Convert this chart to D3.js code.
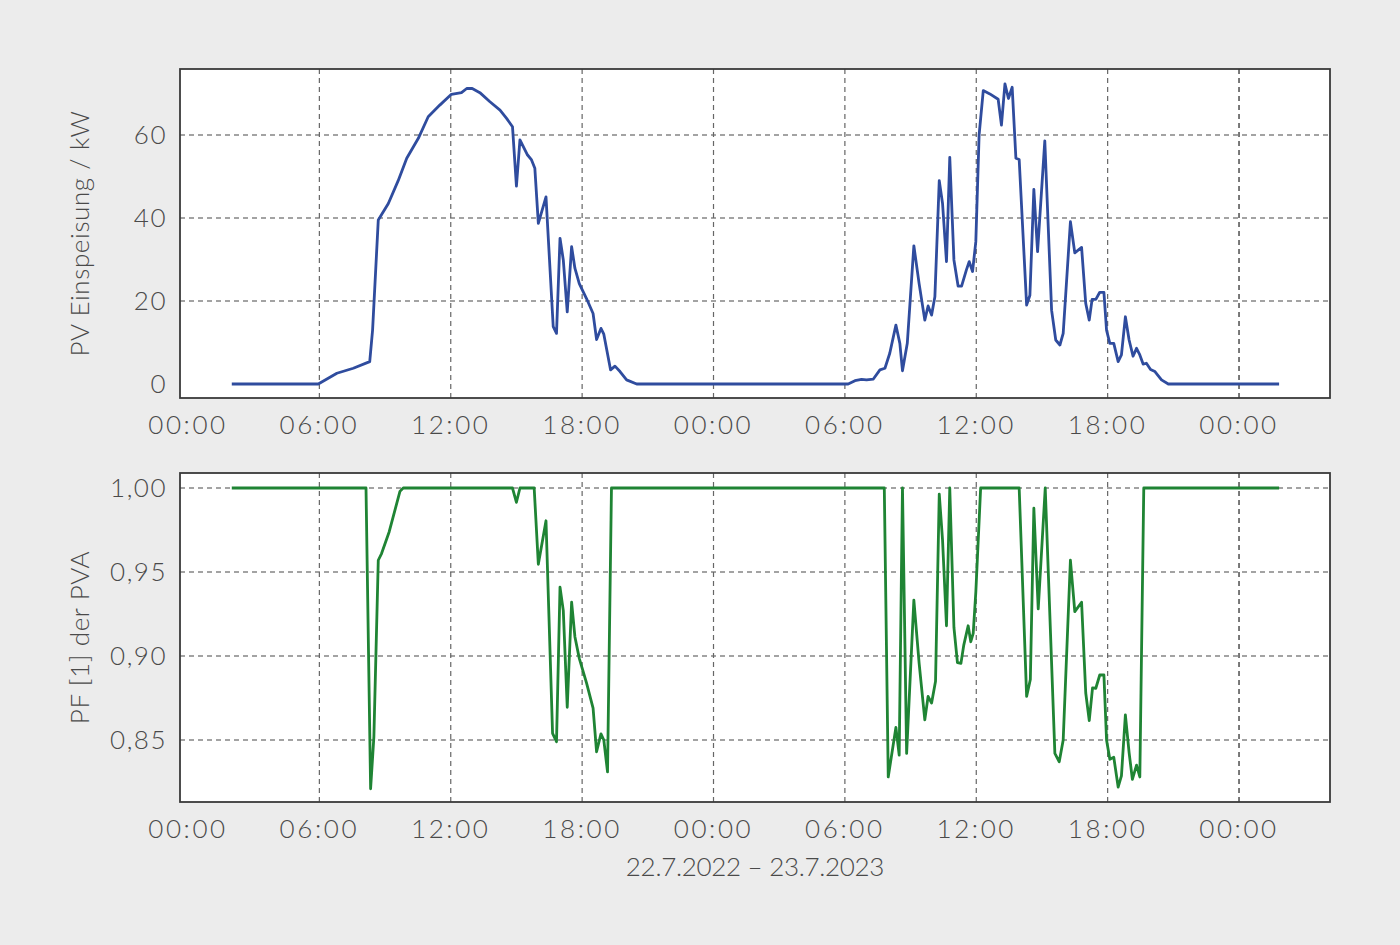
<!DOCTYPE html>
<html><head><meta charset="utf-8">
<script src="https://cdn.jsdelivr.net/npm/d3@7"></script>
<style>
html,body{margin:0;padding:0;background:#ececec;}
svg text{font-family:Lato,"Open Sans",sans-serif;font-weight:300;fill:#4a4a4a;}
</style></head>
<body>
<svg id="c" width="1400" height="945"></svg>
<script>
// ---- data (time in hours since 22.7. 00:00) ----
const pvTime = [2.0,5.95,6.8,7.55,8.3,8.43,8.69,9.15,9.6,9.99,10.52,10.97,11.5,12.03,12.49,12.73,12.98,13.33,13.79,14.25,14.55,14.82,15.0,15.16,15.49,15.69,15.84,16.0,16.35,16.68,16.83,16.99,17.14,17.32,17.52,17.67,17.87,18.2,18.5,18.66,18.86,18.99,19.3,19.5,19.73,20.03,20.49,
  30.15,30.46,30.76,30.99,31.3,31.6,31.83,32.05,32.33,32.51,32.63,32.85,33.15,33.39,33.65,33.8,33.96,34.11,34.31,34.46,34.64,34.79,34.98,35.17,35.33,35.55,35.68,35.83,35.98,36.13,36.32,36.62,37.0,37.15,37.31,37.47,37.64,37.81,37.96,38.3,38.45,38.63,38.8,39.13,39.44,39.63,39.82,39.97,40.3,40.5,40.81,41.0,41.16,41.29,41.46,41.64,41.83,41.95,42.1,42.28,42.48,42.63,42.81,42.98,43.16,43.32,43.47,43.62,43.77,43.96,44.16,44.46,44.77,49.83];
const pvValue = [0,0,2.6,3.8,5.4,13,39.5,43.5,49,54.4,59.2,64.4,67.2,69.8,70.2,71.2,71.2,70.2,68,66,64,62,47.7,58.8,55.3,54,52,38.7,45.1,13.8,12.2,35.1,29.9,17.4,33.1,27.9,24.2,20.6,17,10.7,13.4,12,3.4,4.3,3.0,1.0,0,
  0,0.8,1.1,1.0,1.2,3.4,3.8,7.4,14.2,9.8,3.2,9.8,33.3,24.2,15.4,18.8,16.6,21,49,43.5,29.5,54.6,29.9,23.6,23.6,27.5,29.5,27.1,34.3,60,70.7,69.9,68.6,62.4,72.3,68.8,71.5,54.4,54.1,19,21.4,46.9,31.9,58.6,17.8,10.6,9.4,12.2,39.1,31.6,32.9,19.4,15.4,20.4,20.4,22.1,22.1,13,9.8,9.8,5.4,7,16.2,10.6,6.7,8.6,7,4.8,5.0,3.5,3.0,1.0,0,0];

const pfTime = [2.0,8.13,8.34,8.49,8.69,8.84,9.19,9.68,9.83,14.82,15.0,15.16,15.81,16.0,16.35,16.65,16.83,16.99,17.14,17.32,17.52,17.67,17.87,18.2,18.5,18.66,18.86,18.99,19.16,19.34,
  31.8,31.98,32.33,32.48,32.63,32.82,33.15,33.39,33.65,33.8,33.96,34.14,34.31,34.46,34.64,34.79,34.98,35.14,35.3,35.43,35.63,35.75,35.86,35.98,36.2,37.96,38.3,38.47,38.63,38.83,39.15,39.59,39.79,39.97,40.3,40.5,40.81,41.0,41.16,41.31,41.46,41.64,41.83,41.95,42.1,42.28,42.48,42.63,42.81,42.98,43.13,43.32,43.47,43.65,49.83];
const pfValue = [1,1,0.821,0.852,0.957,0.961,0.974,0.998,1,1,0.9915,1,1,0.9546,0.9805,0.854,0.849,0.941,0.927,0.8695,0.932,0.9115,0.8986,0.884,0.869,0.843,0.8536,0.85,0.831,1,
  1,0.828,0.8575,0.841,1,0.842,0.9333,0.8957,0.862,0.876,0.872,0.885,0.9964,0.969,0.918,1,0.917,0.896,0.8956,0.9065,0.918,0.9085,0.9135,0.938,1,1,0.876,0.886,0.988,0.928,1,0.842,0.837,0.85,0.957,0.9264,0.932,0.878,0.8615,0.881,0.8808,0.8887,0.8887,0.85,0.8385,0.8397,0.822,0.8286,0.865,0.8425,0.8266,0.835,0.828,1,1];

const xTicks = [0,6,12,18,24,30,36,42,48];
const pvTicks = [0,20,40,60];
const pfTicks = [1.00,0.95,0.90,0.85];
const pvLabel = "PV Einspeisung / kW";
const pfLabel = "PF [1] der PVA";
const xLabel = "22.7.2022 – 23.7.2023";

// ---- layout ----
const svg = d3.select("#c");
const L = 180, R = 1330;
const x = d3.scaleLinear().domain([-0.365, 52.155]).range([L, R]);
const fmtT = h => String(h % 24).padStart(2,"0") + ":00";

function panel(top, bottom, yDomain, ticks, gridTicks, fmtY, timeArr, valArr, color, label) {
  const y = d3.scaleLinear().domain(yDomain).range([bottom, top]);
  const g = svg.append("g");
  g.append("rect").attr("x", L).attr("y", top).attr("width", R-L).attr("height", bottom-top).attr("fill", "#fff");
  // horizontal grid
  g.selectAll(".hg").data(gridTicks).join("line")
    .attr("x1", L).attr("x2", R).attr("y1", d => y(d)).attr("y2", d => y(d))
    .attr("stroke", "#858585").attr("stroke-width", 1.4).attr("stroke-dasharray", "5,4");
  // vertical grid
  g.selectAll(".vg").data(xTicks.filter(d => d > 0)).join("line")
    .attr("x1", d => x(d)).attr("x2", d => x(d)).attr("y1", top).attr("y2", bottom)
    .attr("stroke", d => d === 48 ? "#222" : "#666").attr("stroke-width", 1.2).attr("stroke-dasharray", "5,4");
  // line
  const pts = timeArr.map((t,i) => [t, valArr[i]]);
  g.append("path").datum(pts)
    .attr("d", d3.line().x(d => x(d[0])).y(d => y(d[1])))
    .attr("fill", "none").attr("stroke", color).attr("stroke-width", 2.8).attr("stroke-linejoin", "round");
  // frame
  g.append("rect").attr("x", L).attr("y", top).attr("width", R-L).attr("height", bottom-top)
    .attr("fill", "none").attr("stroke", "#3a3a3a").attr("stroke-width", 1.8);
  // y tick labels
  g.selectAll(".yl").data(ticks).join("text")
    .attr("x", 167).attr("y", d => y(d)).attr("dy", "0.36em").attr("text-anchor", "end")
    .attr("font-size", 26).style("letter-spacing","1.5px").text(fmtY);
  // x tick labels
  g.selectAll(".xl").data(xTicks).join("text")
    .attr("x", d => x(d)).attr("y", bottom + 36).attr("text-anchor", "middle")
    .attr("font-size", 26).style("letter-spacing","2.6px").text(fmtT);
  // y label
  g.append("text").attr("transform", `translate(89,${(top+bottom)/2}) rotate(-90)`)
    .attr("text-anchor", "middle").attr("font-size", 26).style("letter-spacing","0.6px").text(label);
  return y;
}

panel(69, 398, [-3.37, 75.9], pvTicks, [20,40,60], d => d3.format("d")(d), pvTime, pvValue, "#2f4c9e", pvLabel);
panel(473, 802, [0.8131, 1.00893], pfTicks, pfTicks, d => d.toFixed(2).replace(".", ","), pfTime, pfValue, "#1f8434", pfLabel);

svg.append("text").attr("x", 755).attr("y", 876).attr("text-anchor", "middle")
  .attr("font-size", 26).style("letter-spacing","-0.3px").text(xLabel);
</script>
</body></html>
